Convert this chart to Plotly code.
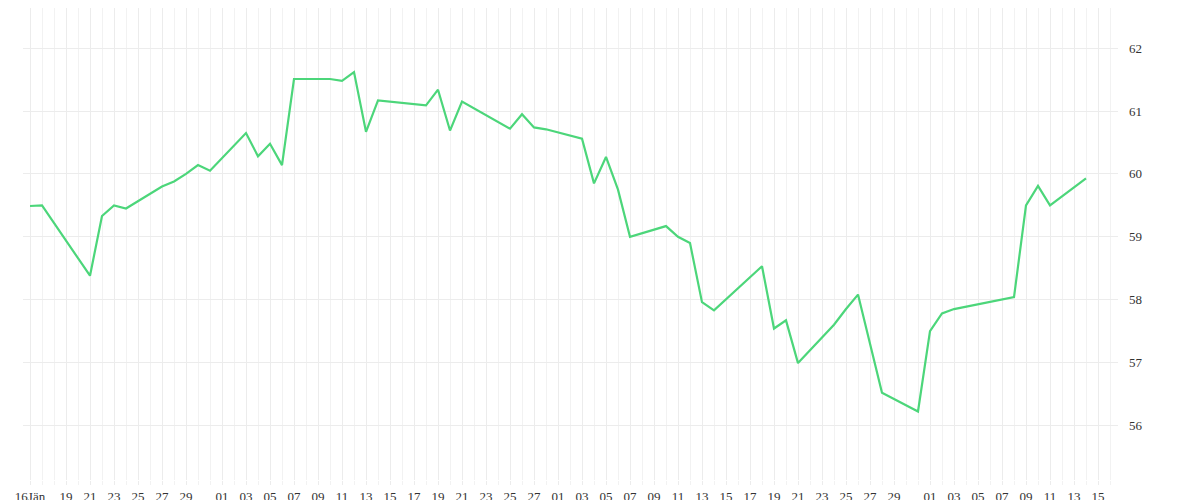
import plotly.graph_objects as go
import pandas as pd

dates = ["2025-01-16","2025-01-17","2025-01-21","2025-01-22","2025-01-23","2025-01-24","2025-01-27","2025-01-28","2025-01-29","2025-01-30","2025-01-31",
"2025-02-03","2025-02-04","2025-02-05","2025-02-06","2025-02-07","2025-02-10","2025-02-11","2025-02-12","2025-02-13","2025-02-14",
"2025-02-18","2025-02-19","2025-02-20","2025-02-21","2025-02-25","2025-02-26","2025-02-27","2025-02-28",
"2025-03-03","2025-03-04","2025-03-05","2025-03-06","2025-03-07","2025-03-10","2025-03-11","2025-03-12","2025-03-13","2025-03-14",
"2025-03-18","2025-03-19","2025-03-20","2025-03-21","2025-03-24","2025-03-25","2025-03-26","2025-03-28","2025-03-31",
"2025-04-01","2025-04-02","2025-04-03","2025-04-08","2025-04-09","2025-04-10","2025-04-11","2025-04-14"]
values = [59.49,59.50,58.38,59.33,59.50,59.45,59.80,59.88,60.00,60.14,60.05,
60.65,60.28,60.48,60.14,61.51,61.51,61.48,61.62,60.67,61.17,
61.09,61.34,60.69,61.15,60.72,60.95,60.74,60.71,
60.56,59.85,60.27,59.75,59.00,59.17,59.00,58.90,57.96,57.83,
58.53,57.54,57.67,56.99,57.60,57.85,58.08,56.52,56.22,
57.50,57.78,57.85,58.04,59.50,59.81,59.50,59.93]

tick_dates = ["2025-01-16"] + [d.strftime("%Y-%m-%d") for d in pd.date_range("2025-01-19","2025-04-15") if d.day % 2 == 1 and not (d.month == 1 and d.day == 31) and not (d.month == 3 and d.day == 31)]
tick_text = ["16Jän"] + [pd.Timestamp(d).strftime("%d") for d in tick_dates[1:]]

fig = go.Figure(go.Scatter(x=dates, y=values, mode="lines",
    line=dict(color="#4cd67a", width=2.2), hoverinfo="skip"))
fig.update_layout(
    width=1200, height=500, margin=dict(l=15, r=90, t=0, b=28, autoexpand=False),
    paper_bgcolor="white", plot_bgcolor="white", showlegend=False,
    font=dict(family="Liberation Serif", size=13, color="#333"),
    xaxis=dict(range=["2025-01-15 10:00","2025-04-16 16:00"], tickmode="array", automargin=False,
        tickvals=tick_dates, ticktext=tick_text, showgrid=True, gridcolor="#ececec",
        ticks="outside", ticklen=4, tickcolor="#ececec", zeroline=False, showline=False,
        minor=dict(dtick=86400000, showgrid=True, gridcolor="#f2f2f2", ticks="outside", ticklen=4, tickcolor="#f2f2f2")),
    yaxis=dict(side="right", range=[55.13, 62.64], tickvals=[56,57,58,59,60,61,62], automargin=False,
        showgrid=True, gridcolor="#ececec", zeroline=False, ticks="", ticklabelstandoff=10),
)
fig.write_html("out.html")
